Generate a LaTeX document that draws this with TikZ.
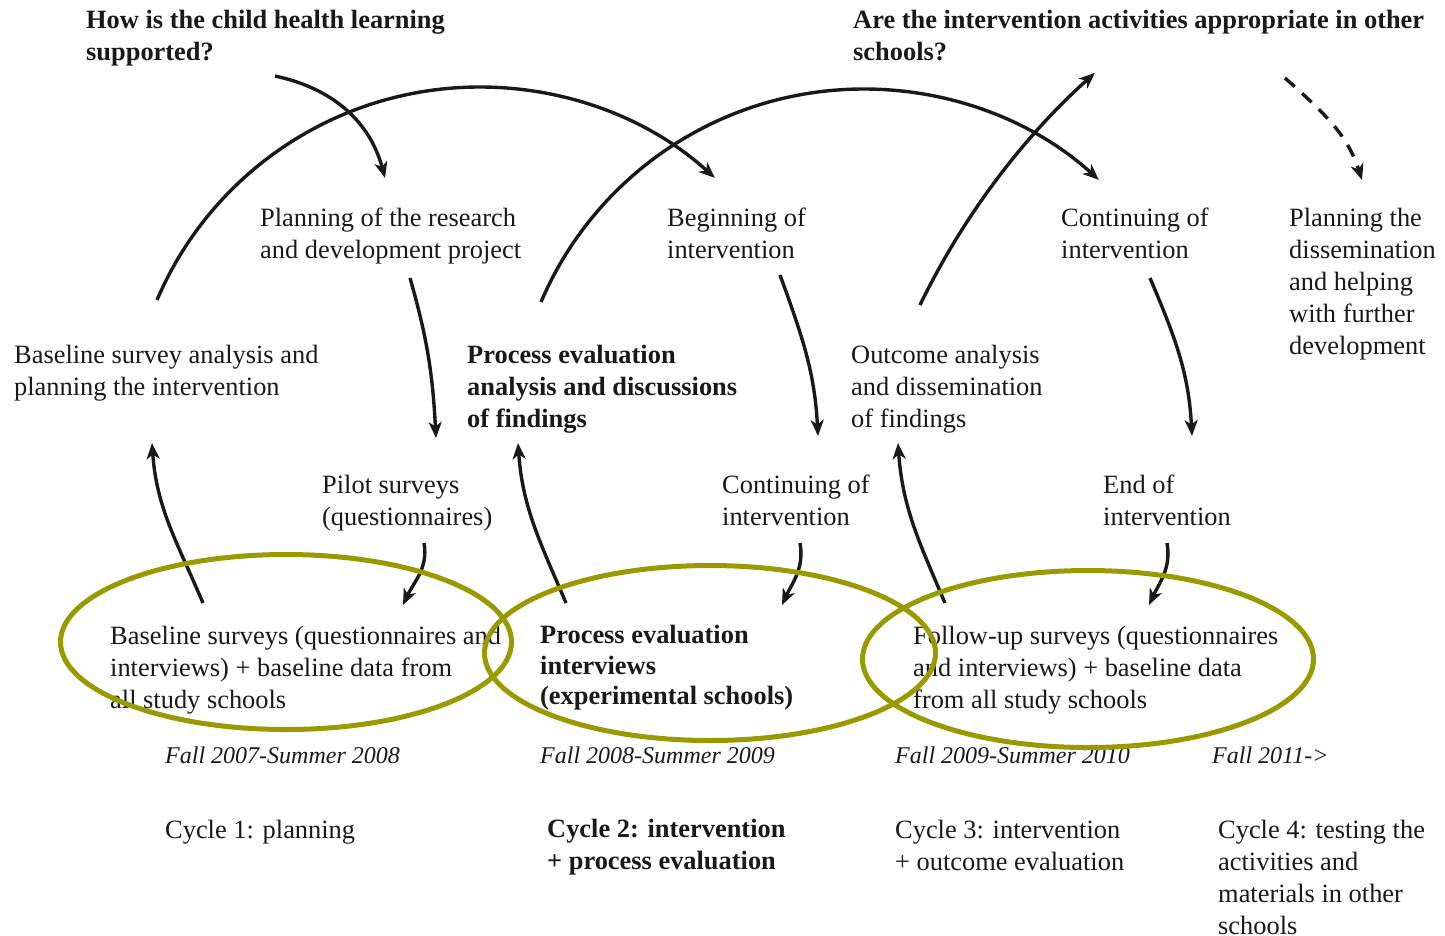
\documentclass[tikz,border=0pt]{standalone}
\usepackage{fontspec}
\setmainfont{Liberation Serif}
\usetikzlibrary{arrows.meta,shapes.geometric}
\definecolor{ink}{RGB}{25,25,25}
\definecolor{ringcol}{RGB}{153,153,0}
\begin{document}
\begin{tikzpicture}[x=1pt,y=1pt,
  txt/.style={anchor=north west, align=left, inner sep=0pt, text=ink, font=\fontsize{26.4}{32}\selectfont},
  btxt/.style={txt, font=\fontsize{26.4}{32}\selectfont\bfseries},
  itxt/.style={txt, font=\fontsize{24}{32}\selectfont\itshape},
  arr/.style={line width=3.4pt, draw=ink, -{Stealth[length=16pt,width=13pt,inset=4.5pt]}},
  dasharr/.style={arr, dash pattern=on 13pt off 10pt},
  ring/.style={ellipse, draw=ringcol, line width=5pt, inner sep=0pt, minimum width=451pt, minimum height=175pt}
]
\path[fill=white, use as bounding box] (0,0) rectangle (1445,-935);

% questions
\node[btxt] (q1) at (86,-6) {\strut How is the child health learning\\supported?};
\node[btxt] (q2) at (853,-6) {\strut Are the intervention activities appropriate in other\\schools?};

% upper row
\node[txt] (plan) at (260,-204) {\strut Planning of the research\\and development project};
\node[txt] (begin) at (667,-204) {\strut Beginning of\\intervention};
\node[txt] (cont1) at (1061,-204) {\strut Continuing of\\intervention};
\node[txt] (diss) at (1289,-204) {\strut Planning the\\dissemination\\and helping\\with further\\development};

% middle row
\node[txt] (bsa) at (14,-341) {\strut Baseline survey analysis and\\planning the intervention};
\node[btxt] (pea) at (467,-341) {\strut Process evaluation\\analysis and discussions\\of findings};
\node[txt] (oad) at (851,-341) {\strut Outcome analysis\\and dissemination\\of findings};

% lower row
\node[txt] (pilot) at (322,-471) {\strut Pilot surveys\\(questionnaires)};
\node[txt] (cont2) at (722,-471) {\strut Continuing of\\intervention};
\node[txt] (endi) at (1103,-471) {\strut End of\\intervention};

% surveys
\node[txt] (bs) at (110,-622) {\strut Baseline surveys (questionnaires and\\interviews) + baseline data from\\all study schools};
\node[btxt, font=\fontsize{26.4}{30.5}\selectfont\bfseries] (pei) at (540,-622) {\strut Process evaluation\\interviews\\(experimental schools)};
\node[txt] (fu) at (913,-622) {\strut Follow-up surveys (questionnaires\\and interviews) + baseline data\\from all study schools};

% dates
\node[itxt] (d1) at (165,-741) {\strut Fall 2007-Summer 2008};
\node[itxt] (d2) at (540,-741) {\strut Fall 2008-Summer 2009};
\node[itxt] (d3) at (895,-741) {\strut Fall 2009-Summer 2010};
\node[itxt] (d4) at (1212,-741) {\strut Fall 2011->};

% cycles
\node[txt] (c1) at (165,-816) {\strut Cycle 1: planning};
\node[btxt] (c2) at (547,-815) {\strut Cycle 2: intervention\\+ process evaluation};
\node[txt] (c3) at (895,-816) {\strut Cycle 3: intervention\\+ outcome evaluation};
\node[txt] (c4) at (1218,-816) {\strut Cycle 4: testing the\\activities and\\materials in other\\schools};

% connector end points
\coordinate (q1s) at (275,-76);   \coordinate (q1e) at (385,-178);
\coordinate (a1s) at (157,-300);
\coordinate (a2s) at (541,-302);
\coordinate (a3s) at (920,-305);
\coordinate (dss) at (1285,-78);  \coordinate (dse) at (1362,-180);
\coordinate (p1s) at (410,-278);  \coordinate (p1e) at (436,-438);
\coordinate (p2s) at (780,-275);  \coordinate (p2e) at (818,-436);
\coordinate (p3s) at (1150,-278); \coordinate (p3e) at (1192,-436);
\coordinate (s1s) at (424,-543);  \coordinate (s1e) at (403,-605);
\coordinate (s2s) at (800,-543);  \coordinate (s2e) at (782,-605);
\coordinate (s3s) at (1167,-543); \coordinate (s3e) at (1149,-605);
\coordinate (u1s) at (203,-603);  \coordinate (u1e) at (152,-443);
\coordinate (u2s) at (566,-603);  \coordinate (u2e) at (518,-443);
\coordinate (u3s) at (945,-603);  \coordinate (u3e) at (898,-443);

% arcs
\draw[arr] (a1s) arc[start angle=156.9, end angle=47.8, radius=350.5];
\draw[arr] (a2s) arc[start angle=156.9, end angle=47.8, radius=350.5];
\draw[arr] (a3s) arc[start angle=154.1, end angle=131.9, radius=755];
\draw[arr] (q1s) to[out=-12, in=105] (q1e);
\draw[dasharr] (dss) to[out=-42, in=108] (dse);

% down arrows
\draw[arr] (p1s) to[out=-74, in=93] (p1e);
\draw[arr] (p2s) to[out=-70, in=93] (p2e);
\draw[arr] (p3s) to[out=-67, in=93] (p3e);
\draw[arr] (s1s) to[out=-80, in=65] (s1e);
\draw[arr] (s2s) to[out=-80, in=65] (s2e);
\draw[arr] (s3s) to[out=-80, in=65] (s3e);

% up arrows
\draw[arr] (u1s) to[out=113, in=-86] (u1e);
\draw[arr] (u2s) to[out=113, in=-86] (u2e);
\draw[arr] (u3s) to[out=113, in=-86] (u3e);

% rings
\node[ring] (e1) at (286,-642) {};
\node[ring] (e2) at (710,-653) {};
\node[ring, minimum height=177pt] (e3) at (1088,-659) {};
\end{tikzpicture}
\end{document}
